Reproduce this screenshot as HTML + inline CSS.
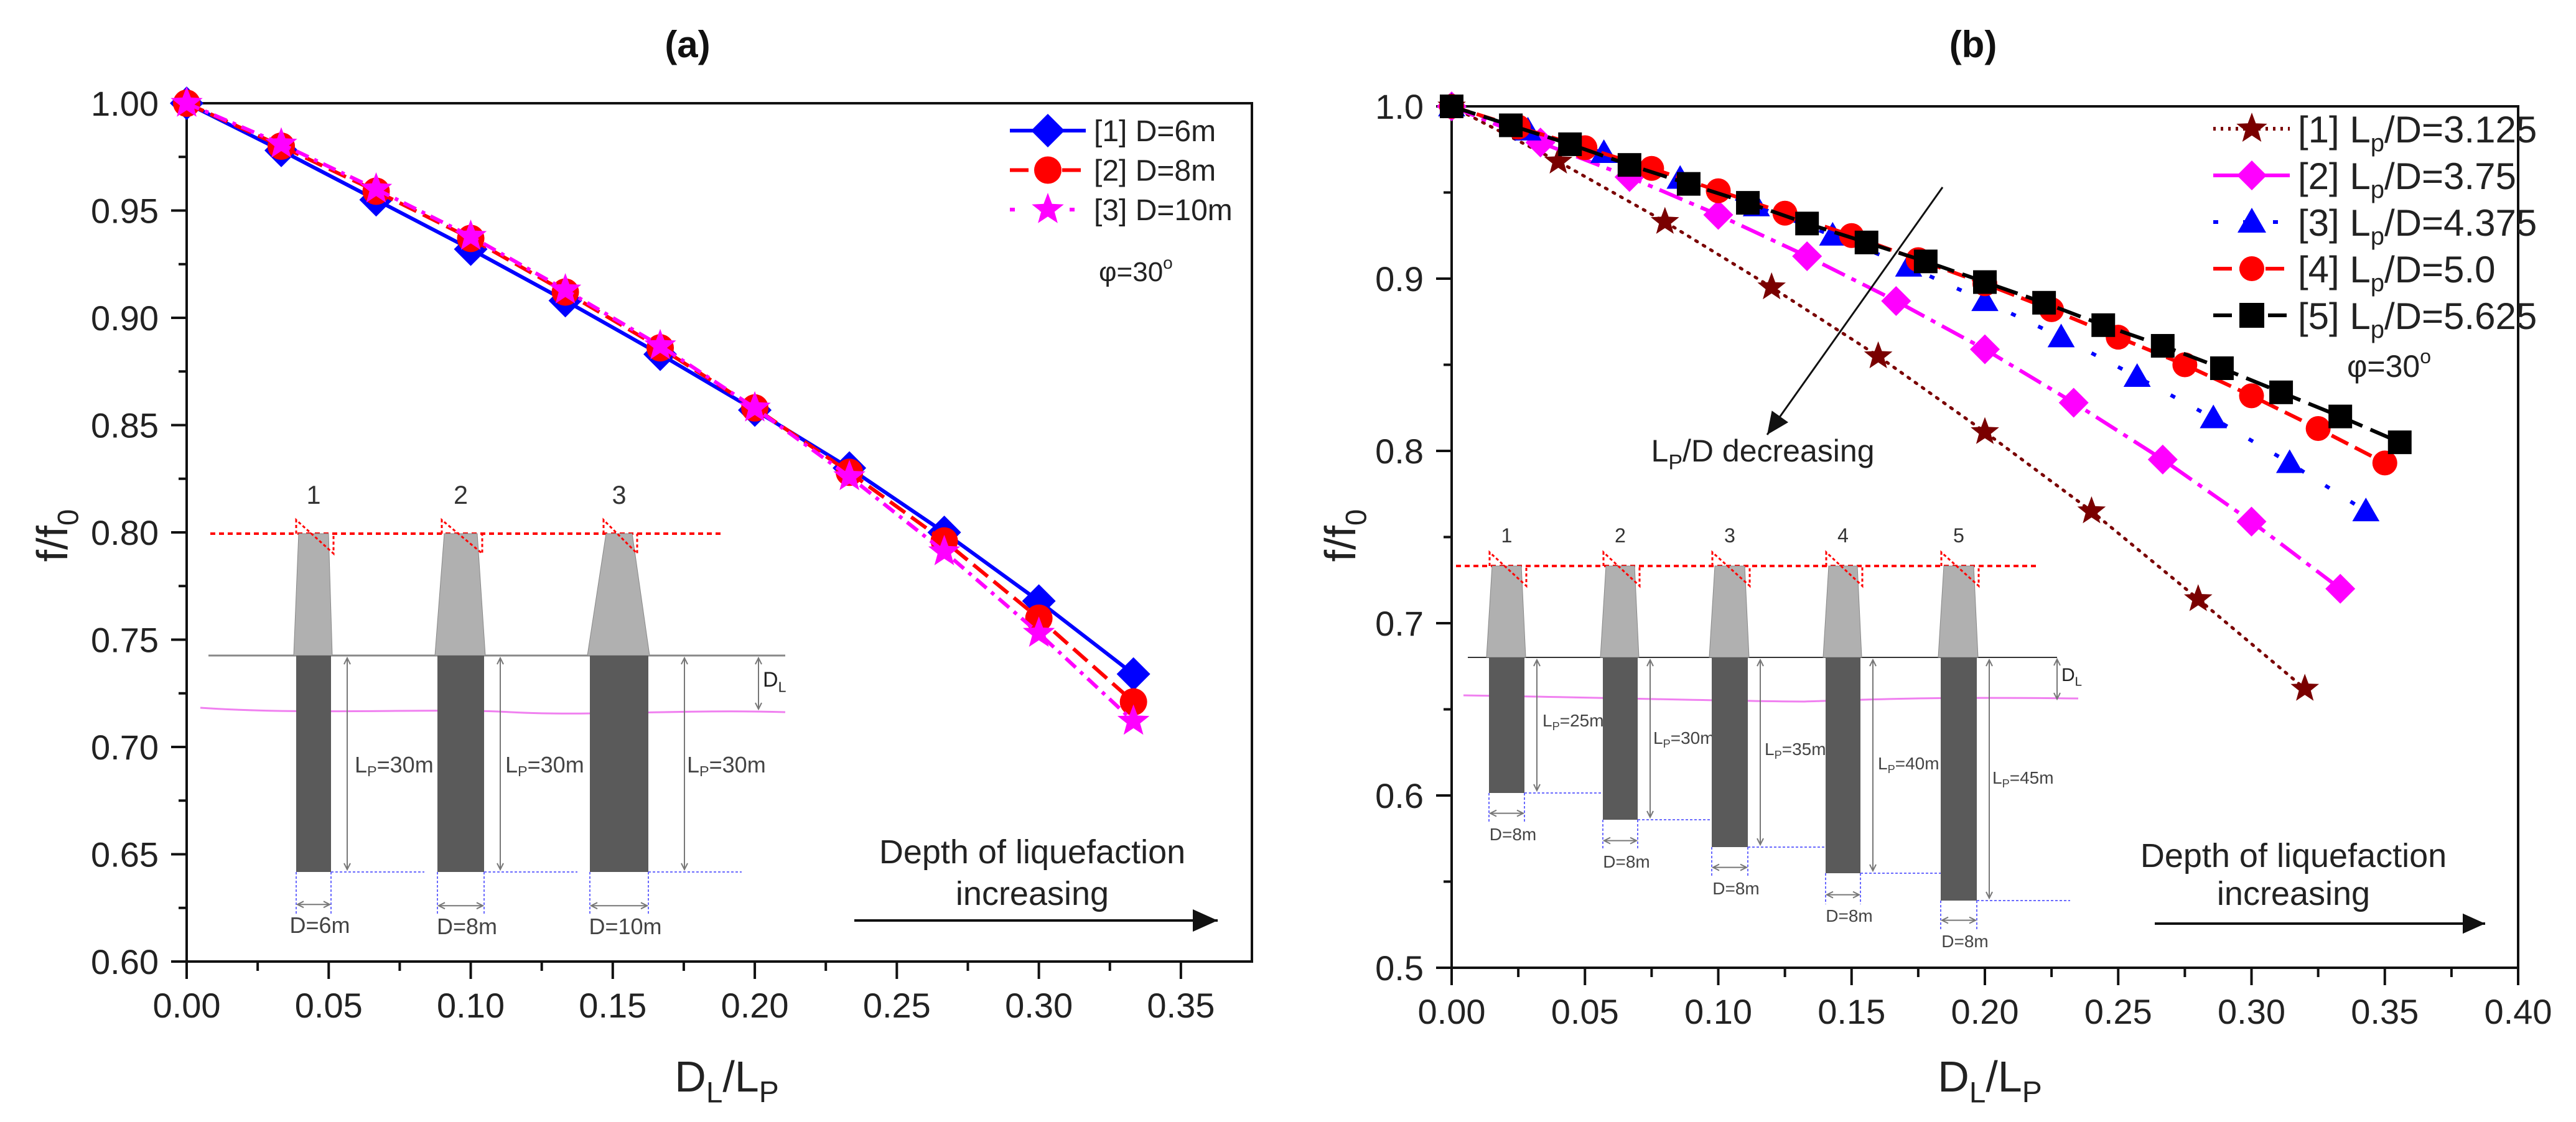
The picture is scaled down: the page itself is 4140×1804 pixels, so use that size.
<!DOCTYPE html>
<html><head><meta charset="utf-8"><style>
html,body{margin:0;padding:0;background:#fff;}
svg{display:block;font-family:"Liberation Sans",sans-serif;}
</style></head><body>
<svg id="root" width="4140" height="1804" viewBox="0 0 4140 1804" xmlns="http://www.w3.org/2000/svg">
<g id="pa"></g>
<g id="pb"></g>
</svg>
<script>
// ---------- Panel (a) data ----------
const aX = [0, 0.0333, 0.0667, 0.1, 0.1333, 0.1667, 0.2, 0.2333, 0.2667, 0.3, 0.3333];
const aD6 = [1.0, 0.978, 0.955, 0.932, 0.908, 0.883, 0.857, 0.830, 0.800, 0.768, 0.734];
const aD8 = [1.0, 0.980, 0.959, 0.937, 0.912, 0.886, 0.858, 0.828, 0.796, 0.760, 0.721];
const aD10 = [1.0, 0.981, 0.960, 0.938, 0.913, 0.887, 0.858, 0.826, 0.791, 0.753, 0.712];
const aXTicks = ["0.00","0.05","0.10","0.15","0.20","0.25","0.30","0.35"];
const aYTicks = ["0.60","0.65","0.70","0.75","0.80","0.85","0.90","0.95","1.00"];
const aLegend = ["[1] D=6m","[2] D=8m","[3] D=10m"];
// ---------- Panel (b) data ----------
const bX1 = [0, 0.04, 0.08, 0.12, 0.16, 0.20, 0.24, 0.28, 0.32];
const bY1 = [1.0, 0.968, 0.933, 0.895, 0.855, 0.811, 0.765, 0.714, 0.662];
const bX2 = [0, 0.0333, 0.0667, 0.1, 0.1333, 0.1667, 0.2, 0.2333, 0.2667, 0.3, 0.3333];
const bY2 = [1.0, 0.979, 0.959, 0.937, 0.913, 0.887, 0.859, 0.828, 0.795, 0.759, 0.720];
const bX3 = [0, 0.0286, 0.0571, 0.0857, 0.1143, 0.1429, 0.1714, 0.2, 0.2286, 0.2571, 0.2857, 0.3143, 0.3429];
const bY3 = [1.0, 0.986, 0.973, 0.958, 0.942, 0.925, 0.907, 0.887, 0.866, 0.843, 0.819, 0.793, 0.765];
const bX4 = [0, 0.025, 0.05, 0.075, 0.1, 0.125, 0.15, 0.175, 0.2, 0.225, 0.25, 0.275, 0.3, 0.325, 0.35];
const bY4 = [1.0, 0.988, 0.976, 0.964, 0.951, 0.938, 0.925, 0.911, 0.897, 0.882, 0.866, 0.850, 0.832, 0.813, 0.793];
const bX5 = [0, 0.0222, 0.0444, 0.0667, 0.0889, 0.1111, 0.1333, 0.1556, 0.1778, 0.2, 0.2222, 0.2444, 0.2667, 0.2889, 0.3111, 0.3333, 0.3556];
const bY5 = [1.0, 0.989, 0.978, 0.966, 0.955, 0.944, 0.932, 0.921, 0.910, 0.898, 0.886, 0.873, 0.861, 0.848, 0.834, 0.820, 0.805];
const bXTicks = ["0.00","0.05","0.10","0.15","0.20","0.25","0.30","0.35","0.40"];
const bYTicks = ["0.5","0.6","0.7","0.8","0.9","1.0"];
const bLegend = ["[1] L","[2] L","[3] L","[4] L","[5] L"];
const bLegendTail = ["/D=3.125","/D=3.75","/D=4.375","/D=5.0","/D=5.625"];

const NS="http://www.w3.org/2000/svg";
function mk(parent,tag,attrs,text){const e=document.createElementNS(NS,tag);for(const k in attrs)e.setAttribute(k,attrs[k]);if(text!==undefined)e.textContent=text;parent.appendChild(e);return e;}

function marker(g,type,cx,cy,s,color){
  let e;
  if(type==='diamond'){e=mk(g,'polygon',{points:`${cx},${cy-s} ${cx+s},${cy} ${cx},${cy+s} ${cx-s},${cy}`,fill:color});}
  else if(type==='circle'){e=mk(g,'circle',{cx:cx,cy:cy,r:s,fill:color});}
  else if(type==='square'){e=mk(g,'rect',{x:cx-s,y:cy-s,width:2*s,height:2*s,fill:color});}
  else if(type==='triangle'){e=mk(g,'polygon',{points:`${cx},${cy-s*1.15} ${cx+s*1.15},${cy+s*0.85} ${cx-s*1.15},${cy+s*0.85}`,fill:color});}
  else { let p=[];for(let i=0;i<10;i++){const r=i%2?s*0.42:s;const a=-Math.PI/2+i*Math.PI/5;p.push((cx+r*Math.cos(a)).toFixed(1)+','+(cy+r*Math.sin(a)).toFixed(1));}
    e=mk(g,'polygon',{points:p.join(' '),fill:color});}
  return e;
}

function axes(g,o){
  const {L,R,T,B,xmin,xmax,ymin,ymax}=o;
  const sx=v=>L+(v-xmin)/(xmax-xmin)*(R-L);
  const sy=v=>B-(v-ymin)/(ymax-ymin)*(B-T);
  const frame=mk(g,'rect',{x:L,y:T,width:R-L,height:B-T,fill:'none',stroke:'#111','stroke-width':4});
  
  o.xTicks.forEach((t,i)=>{const v=parseFloat(t);const x=sx(v);
    mk(g,'line',{x1:x,y1:B,x2:x,y2:B+28,stroke:'#111','stroke-width':4});
    const tx=mk(g,'text',{x:x,y:B+90,'font-size':56,'text-anchor':'middle',fill:'#222'},t);
    
  });
  for(let v=xmin+o.xMinor;v<xmax-1e-9;v+=o.xMinor*2){mk(g,'line',{x1:sx(v),y1:B,x2:sx(v),y2:B+15,stroke:'#111','stroke-width':4});}
  o.yTicks.forEach(t=>{const v=parseFloat(t);const y=sy(v);
    mk(g,'line',{x1:L-25,y1:y,x2:L,y2:y,stroke:'#111','stroke-width':4});
    const ty=mk(g,'text',{x:L-45,y:y+20,'font-size':56,'text-anchor':'end',fill:'#222'},t);
    
  });
  for(let v=ymin+o.yMinor;v<ymax-1e-9;v+=o.yMinor*2){mk(g,'line',{x1:L-13,y1:sy(v),x2:L,y2:sy(v),stroke:'#111','stroke-width':4});}
  return {sx,sy};
}

function series(g,name,xs,ys,sx,sy,color,dash,mtype,ms,lw){
  const sg=mk(g,'g',{});
  
  const pts=xs.map((x,i)=>sx(x).toFixed(1)+','+sy(ys[i]).toFixed(1)).join(' ');
  mk(sg,'polyline',{points:pts,fill:'none',stroke:color,'stroke-width':lw,'stroke-dasharray':dash,'stroke-linecap':dash&&dash.startsWith('3 ')?'round':'butt'});
  xs.forEach((x,i)=>{const m=marker(sg,mtype,sx(x),sy(ys[i]),ms,color);
    });
}

function arrowLine(g,x1,y1,x2,y2,w,head){
  mk(g,'line',{x1:x1,y1:y1,x2:x2,y2:y2,stroke:'#111','stroke-width':w});
  const a=Math.atan2(y2-y1,x2-x1);const h=head,hw=head*0.45;
  const p1=[x2-h*Math.cos(a)+hw*Math.sin(a),y2-h*Math.sin(a)-hw*Math.cos(a)];
  const p2=[x2-h*Math.cos(a)-hw*Math.sin(a),y2-h*Math.sin(a)+hw*Math.cos(a)];
  mk(g,'polygon',{points:`${x2},${y2} ${p1[0]},${p1[1]} ${p2[0]},${p2[1]}`,fill:'#111'});
}

function smallArrow(g,x1,y1,x2,y2){
  mk(g,'line',{x1:x1,y1:y1,x2:x2,y2:y2,stroke:'#777','stroke-width':2});
  const a=Math.atan2(y2-y1,x2-x1),h=10,hw=5;
  [[x2,y2,a],[x1,y1,a+Math.PI]].forEach(([x,y,b])=>{
    mk(g,'polyline',{points:`${x-h*Math.cos(b)+hw*Math.sin(b)},${y-h*Math.sin(b)-hw*Math.cos(b)} ${x},${y} ${x-h*Math.cos(b)-hw*Math.sin(b)},${y-h*Math.sin(b)+hw*Math.cos(b)}`,fill:'none',stroke:'#777','stroke-width':2});});
}

function pile(g,dl,dr,topY,groundY,botY,capInset,label,lblY,arrowX,lp,lpX,lpY,dlbl,dY,fs){
  fs=fs||28;
  const pg=mk(g,'g',{});
  
  const w=dr-dl;
  mk(pg,'polygon',{points:`${dl+capInset},${topY} ${dr-capInset},${topY} ${dr+2},${groundY} ${dl-4},${groundY}`,fill:'#b0b0b0',stroke:'#888','stroke-width':1});
  mk(pg,'rect',{x:dl,y:groundY,width:w,height:botY-groundY,fill:'#5a5a5a'});
  mk(pg,'polyline',{points:`${dl+capInset-4},${topY} ${dl+capInset-4},${topY-22} ${dr-capInset+8},${topY+32} ${dr-capInset+8},${topY}`,fill:'none',stroke:'#f00','stroke-width':3,'stroke-dasharray':'5 4'});
  mk(pg,'text',{x:(dl+dr)/2,y:lblY,'font-size':fs*1.15,'text-anchor':'middle',fill:'#333'},label);
  mk(pg,'line',{x1:dr,y1:botY,x2:dr+150,y2:botY,stroke:'#6a6aff','stroke-width':2,'stroke-dasharray':'4 3'});
  mk(pg,'line',{x1:dl,y1:botY,x2:dl,y2:dY-10-fs*0.3,stroke:'#6a6aff','stroke-width':2,'stroke-dasharray':'4 3'});
  mk(pg,'line',{x1:dr,y1:botY,x2:dr,y2:dY-10-fs*0.3,stroke:'#6a6aff','stroke-width':2,'stroke-dasharray':'4 3'});
  smallArrow(pg,dl+2,dY-25-fs*0.3,dr-2,dY-25-fs*0.3);
  mk(pg,'text',{x:(dl+dr)/2+10,y:dY+10,'font-size':fs,'text-anchor':'middle',fill:'#444'},dlbl);
  smallArrow(pg,arrowX,groundY+4,arrowX,botY-4);
  const t=mk(pg,'text',{x:lpX,y:lpY,'font-size':fs,fill:'#444'});
  t.appendChild(document.createTextNode('L'));
  mk(t,'tspan',{'font-size':fs*0.65,dy:6},'P');
  mk(t,'tspan',{dy:-6},lp);
}

function subText(g,x,y,fs,main,sub,tail,anchor,name){
  const t=mk(g,'text',{x:x,y:y,'font-size':fs,'text-anchor':anchor||'start',fill:'#222'});
  
  t.appendChild(document.createTextNode(main));
  mk(t,'tspan',{'font-size':fs*0.68,dy:fs*0.25},sub);
  if(tail!==null) mk(t,'tspan',{'font-size':fs,dy:-fs*0.25},tail);
  return t;
}

// ================= Panel A =================
(function(){
  const g=document.getElementById('pa');
  const t=mk(g,'text',{x:1105,y:92,'font-size':60,'font-weight':'bold','text-anchor':'middle',fill:'#111'},'(a)');
  
  const {sx,sy}=axes(g,{L:300,R:2012,T:166,B:1546,xmin:0,xmax:0.375,ymin:0.6,ymax:1.0,xTicks:aXTicks,yTicks:aYTicks,xMinor:0.025,yMinor:0.025});
  const ins=mk(g,'g',{});
  mk(ins,'line',{x1:338,y1:858,x2:1163,y2:858,stroke:'#f00','stroke-width':4,'stroke-dasharray':'8 6'});
  mk(ins,'line',{x1:335,y1:1054,x2:1262,y2:1054,stroke:'#888','stroke-width':3});
  mk(ins,'path',{d:'M322,1138 C500,1150 700,1138 820,1145 C950,1152 1100,1140 1262,1145',fill:'none',stroke:'#f080f0','stroke-width':3});
  pile(ins,476,532,858,1054,1402,4,'1',810,558,'=30m',570,1242,'D=6m',1490,36);
  pile(ins,703,778,858,1054,1402,11,'2',810,804,'=30m',812,1242,'D=8m',1492,36);
  pile(ins,948,1042,858,1054,1402,26,'3',810,1100,'=30m',1104,1242,'D=10m',1492,36);
  smallArrow(ins,1219,1058,1219,1140);
  subText(ins,1226,1104,34,'D','L',null,'start','dl-label');
  series(g,'series-d6m',aX,aD6,sx,sy,'#0000ff','', 'diamond',27,6);
  series(g,'series-d8m',aX,aD8,sx,sy,'#ff0000','30 12','circle',22,6);
  series(g,'series-d10m',aX,aD10,sx,sy,'#ff00ff','22 10 6 10','star',27,6);
  const lg=mk(g,'g',{});
  const cols=['#0000ff','#ff0000','#ff00ff'],types=['diamond','circle','star'],dashes=['','30 12','8 40'];
  aLegend.forEach((s,i)=>{const y=210+i*63.5;
    const e=mk(lg,'g',{});
    mk(e,'line',{x1:1623,y1:y,x2:1745,y2:y,stroke:cols[i],'stroke-width':6,'stroke-dasharray':dashes[i]});
    marker(e,types[i],1684,y,i==1?22:27,cols[i]);
    mk(e,'text',{x:1758,y:y+17,'font-size':48,fill:'#222'},s);
  });
  const ph=mk(g,'text',{x:1766,y:452,'font-size':44,fill:'#222'},'\u03C6=30');
  mk(ph,'tspan',{'font-size':28,dy:-20},'o');
  
  const d1=mk(g,'text',{x:1659,y:1388,'font-size':54,'text-anchor':'middle',fill:'#222'},'Depth of liquefaction');
  
  mk(g,'text',{x:1659,y:1455,'font-size':54,'text-anchor':'middle',fill:'#222'},'increasing');
  arrowLine(g,1373,1480,1957,1480,4,40);
  const yl=subText(g,0,0,70,'f/f','0',null,'middle','y-axis-title');
  yl.setAttribute('transform','translate(108,861) rotate(-90)');
  subText(g,1168,1755,70,'D','L','/L','middle','x-axis-title').appendChild((()=>{const s=document.createElementNS(NS,'tspan');s.setAttribute('font-size',48);s.setAttribute('dy',17);s.textContent='P';return s;})());
})();

// ================= Panel B =================
(function(){
  const g=document.getElementById('pb');
  const t=mk(g,'text',{x:3171,y:92,'font-size':60,'font-weight':'bold','text-anchor':'middle',fill:'#111'},'(b)');
  
  const {sx,sy}=axes(g,{L:2333,R:4047,T:171,B:1556,xmin:0,xmax:0.4,ymin:0.5,ymax:1.0,xTicks:bXTicks,yTicks:bYTicks,xMinor:0.025,yMinor:0.05});
  const ins=mk(g,'g',{});
  mk(ins,'line',{x1:2340,y1:910,x2:3274,y2:910,stroke:'#f00','stroke-width':4,'stroke-dasharray':'8 6'});
  mk(ins,'line',{x1:2359,y1:1057,x2:3306,y2:1057,stroke:'#333','stroke-width':2});
  mk(ins,'path',{d:'M2352,1118 C2600,1122 2800,1128 2900,1128 C3000,1125 3100,1120 3340,1123',fill:'none',stroke:'#f080f0','stroke-width':3});
  const P=[[2393,2450,1275,2470,'=25m',2479,1168,1341],[2576,2632,1318,2652,'=30m',2657,1196,1385],[2751,2809,1362,2829,'=35m',2836,1214,1428],[2934,2990,1404,3010,'=40m',3018,1237,1472],[3119,3177,1448,3197,'=45m',3202,1260,1513]];
  P.forEach((p,i)=>pile(ins,p[0],p[1],910,1057,p[2],5,String(i+1),872,p[3],p[4],p[5],p[6],'D=8m',p[7],28));
  smallArrow(ins,3306,1060,3306,1124);
  subText(ins,3313,1095,30,'D','L',null,'start','dl-label');
  series(g,'series-lpd-3.125',bX1,bY1,sx,sy,'#7a0000','3 11','star',24,5);
  series(g,'series-lpd-3.75',bX2,bY2,sx,sy,'#ff00ff','40 12 8 12','diamond',24,6);
  series(g,'series-lpd-4.375',bX3,bY3,sx,sy,'#0000ff','8 40','triangle',19,6);
  series(g,'series-lpd-5.0',bX4,bY4,sx,sy,'#ff0000','30 12','circle',20,6);
  series(g,'series-lpd-5.625',bX5,bY5,sx,sy,'#000000','40 14','square',19,6);
  const lg=mk(g,'g',{});
  const cols=['#7a0000','#ff00ff','#0000ff','#ff0000','#000000'],types=['star','diamond','triangle','circle','square'],dashes=['4 8','','8 40','30 12','30 14'];
  bLegend.forEach((s,i)=>{const y=207+i*75;
    const e=mk(lg,'g',{});
    mk(e,'line',{x1:3557,y1:y,x2:3680,y2:y,stroke:cols[i],'stroke-width':6,'stroke-dasharray':dashes[i]});
    marker(e,types[i],3619,y,i==0?26:(i==1?24:20),cols[i]);
    const tx=mk(e,'text',{x:3693,y:y+22,'font-size':60,fill:'#222'},s);
    mk(tx,'tspan',{'font-size':40,dy:14},'p');
    mk(tx,'tspan',{dy:-14},bLegendTail[i]);
  });
  const ph=mk(g,'text',{x:3772,y:606,'font-size':50,fill:'#222'},'\u03C6=30');
  mk(ph,'tspan',{'font-size':32,dy:-22},'o');
  
  arrowLine(g,3122,301,2840,699,3,36);
  subText(g,2833,742,50,'L','P','/D decreasing','middle','lpd-decreasing-annotation');
  const d1=mk(g,'text',{x:3686,y:1394,'font-size':54,'text-anchor':'middle',fill:'#222'},'Depth of liquefaction');
  
  mk(g,'text',{x:3686,y:1455,'font-size':54,'text-anchor':'middle',fill:'#222'},'increasing');
  arrowLine(g,3463,1485,3994,1485,4,36);
  const yl=subText(g,0,0,70,'f/f','0',null,'middle','y-axis-title');
  yl.setAttribute('transform','translate(2178,861) rotate(-90)');
  subText(g,3198,1755,70,'D','L','/L','middle','x-axis-title').appendChild((()=>{const s=document.createElementNS(NS,'tspan');s.setAttribute('font-size',48);s.setAttribute('dy',17);s.textContent='P';return s;})());
})();
</script>
</body></html>
